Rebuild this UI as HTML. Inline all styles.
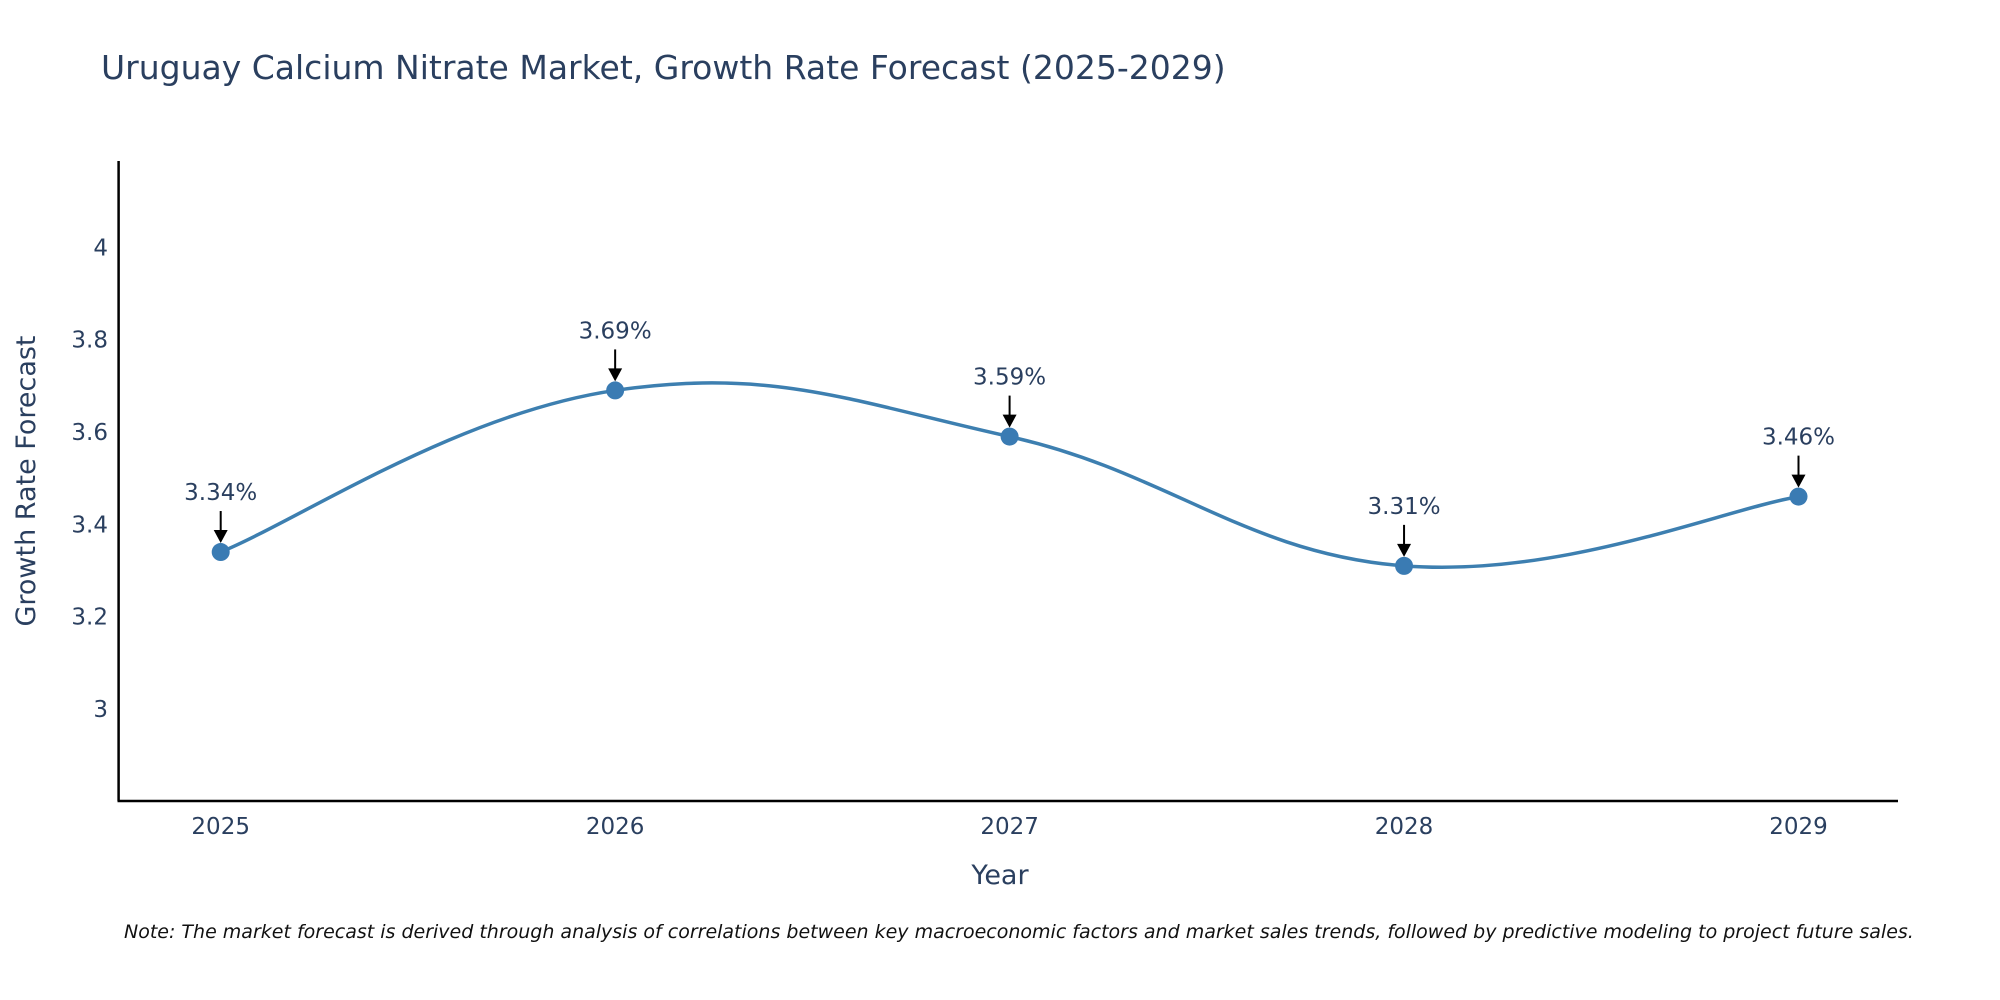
<!DOCTYPE html>
<html><head><meta charset="utf-8"><style>
body{margin:0;background:#fff;}
svg{display:block;font-family:"DejaVu Sans","Liberation Sans",sans-serif;}
</style></head><body>
<svg id="chart" width="2000" height="1000">
<rect width="2000" height="1000" fill="#fff"/>
<text x="101" y="79" font-size="33" fill="#2a3f5f">Uruguay Calcium Nitrate Market, Growth Rate Forecast (2025-2029)</text>
<g id="yticks"></g>
<g id="xticks"></g>
<line x1="118.6" y1="161" x2="118.6" y2="801" stroke="#000" stroke-width="2.5"/>
<line x1="117.5" y1="801" x2="1898" y2="801" stroke="#000" stroke-width="2.5"/>
<path id="line" fill="none" stroke="#3d7fb0" stroke-width="3.5"/>
<g id="marks"></g>
<g id="annos"></g>
<text x="1000" y="884" font-size="27" fill="#2a3f5f" text-anchor="middle">Year</text>
<text transform="translate(35,481) rotate(-90)" font-size="27" fill="#2a3f5f" text-anchor="middle">Growth Rate Forecast</text>
<text x="124" y="938" font-size="19" font-style="italic" fill="#111">Note: The market forecast is derived through analysis of correlations between key macroeconomic factors and market sales trends, followed by predictive modeling to project future sales.</text>
</svg>
<script>
const years = [2025, 2026, 2027, 2028, 2029];
const values = [3.34, 3.69, 3.59, 3.31, 3.46];
const yTickValues = [3, 3.2, 3.4, 3.6, 3.8, 4];
const yTickLabels = ["3", "3.2", "3.4", "3.6", "3.8", "4"];

const NS = "http://www.w3.org/2000/svg";
function xScale(yr){ return 220.7 + (yr - 2025) * 394.45; }
function yScale(v){ return 709 - (v - 3) * 461.7; }
function mk(tag, attrs, parent){ const e=document.createElementNS(NS,tag); for(const k in attrs) e.setAttribute(k,attrs[k]); parent.appendChild(e); return e; }

const yt=document.getElementById('yticks');
yTickValues.forEach((v,i)=>{
  const t=mk('text',{x:108,y:yScale(v)+8,'font-size':23,fill:'#2a3f5f','text-anchor':'end'},yt);
  
  
  t.textContent=yTickLabels[i];
});
const xt=document.getElementById('xticks');
years.forEach(yr=>{
  const t=mk('text',{x:xScale(yr),y:834,'font-size':23,fill:'#2a3f5f','text-anchor':'middle'},xt);
  
  
  t.textContent=String(yr);
});

const pts=years.map((yr,i)=>[xScale(yr),yScale(values[i])]);
let d=`M${pts[0][0]},${pts[0][1]}`;
for(let i=0;i<pts.length-1;i++){
  const p0=pts[Math.max(0,i-1)],p1=pts[i],p2=pts[i+1],p3=pts[Math.min(pts.length-1,i+2)];
  const k=1/5;
  const c1=[p1[0]+(p2[0]-p0[0])*k,p1[1]+(p2[1]-p0[1])*k];
  const c2=[p2[0]-(p3[0]-p1[0])*k,p2[1]-(p3[1]-p1[1])*k];
  d+=` C${c1[0]},${c1[1]} ${c2[0]},${c2[1]} ${p2[0]},${p2[1]}`;
}
document.getElementById('line').setAttribute('d',d);

const mg=document.getElementById('marks'), ag=document.getElementById('annos');
pts.forEach((p,i)=>{
  const c=mk('circle',{cx:p[0],cy:p[1],r:9,fill:'#3a7bb3'},mg);
  
  
  const l=mk('line',{x1:p[0],y1:p[1]-41,x2:p[0],y2:p[1]-20,stroke:'#000','stroke-width':2},ag);
  
  
  const h=mk('polygon',{points:`${p[0]-7},${p[1]-22} ${p[0]+7},${p[1]-22} ${p[0]},${p[1]-9}`,fill:'#000'},ag);
  
  
  const t=mk('text',{x:p[0],y:p[1]-52,'font-size':23,fill:'#2a3f5f','text-anchor':'middle'},ag);
  
  
  t.textContent=values[i].toFixed(2)+'%';
});
</script>
</body></html>
